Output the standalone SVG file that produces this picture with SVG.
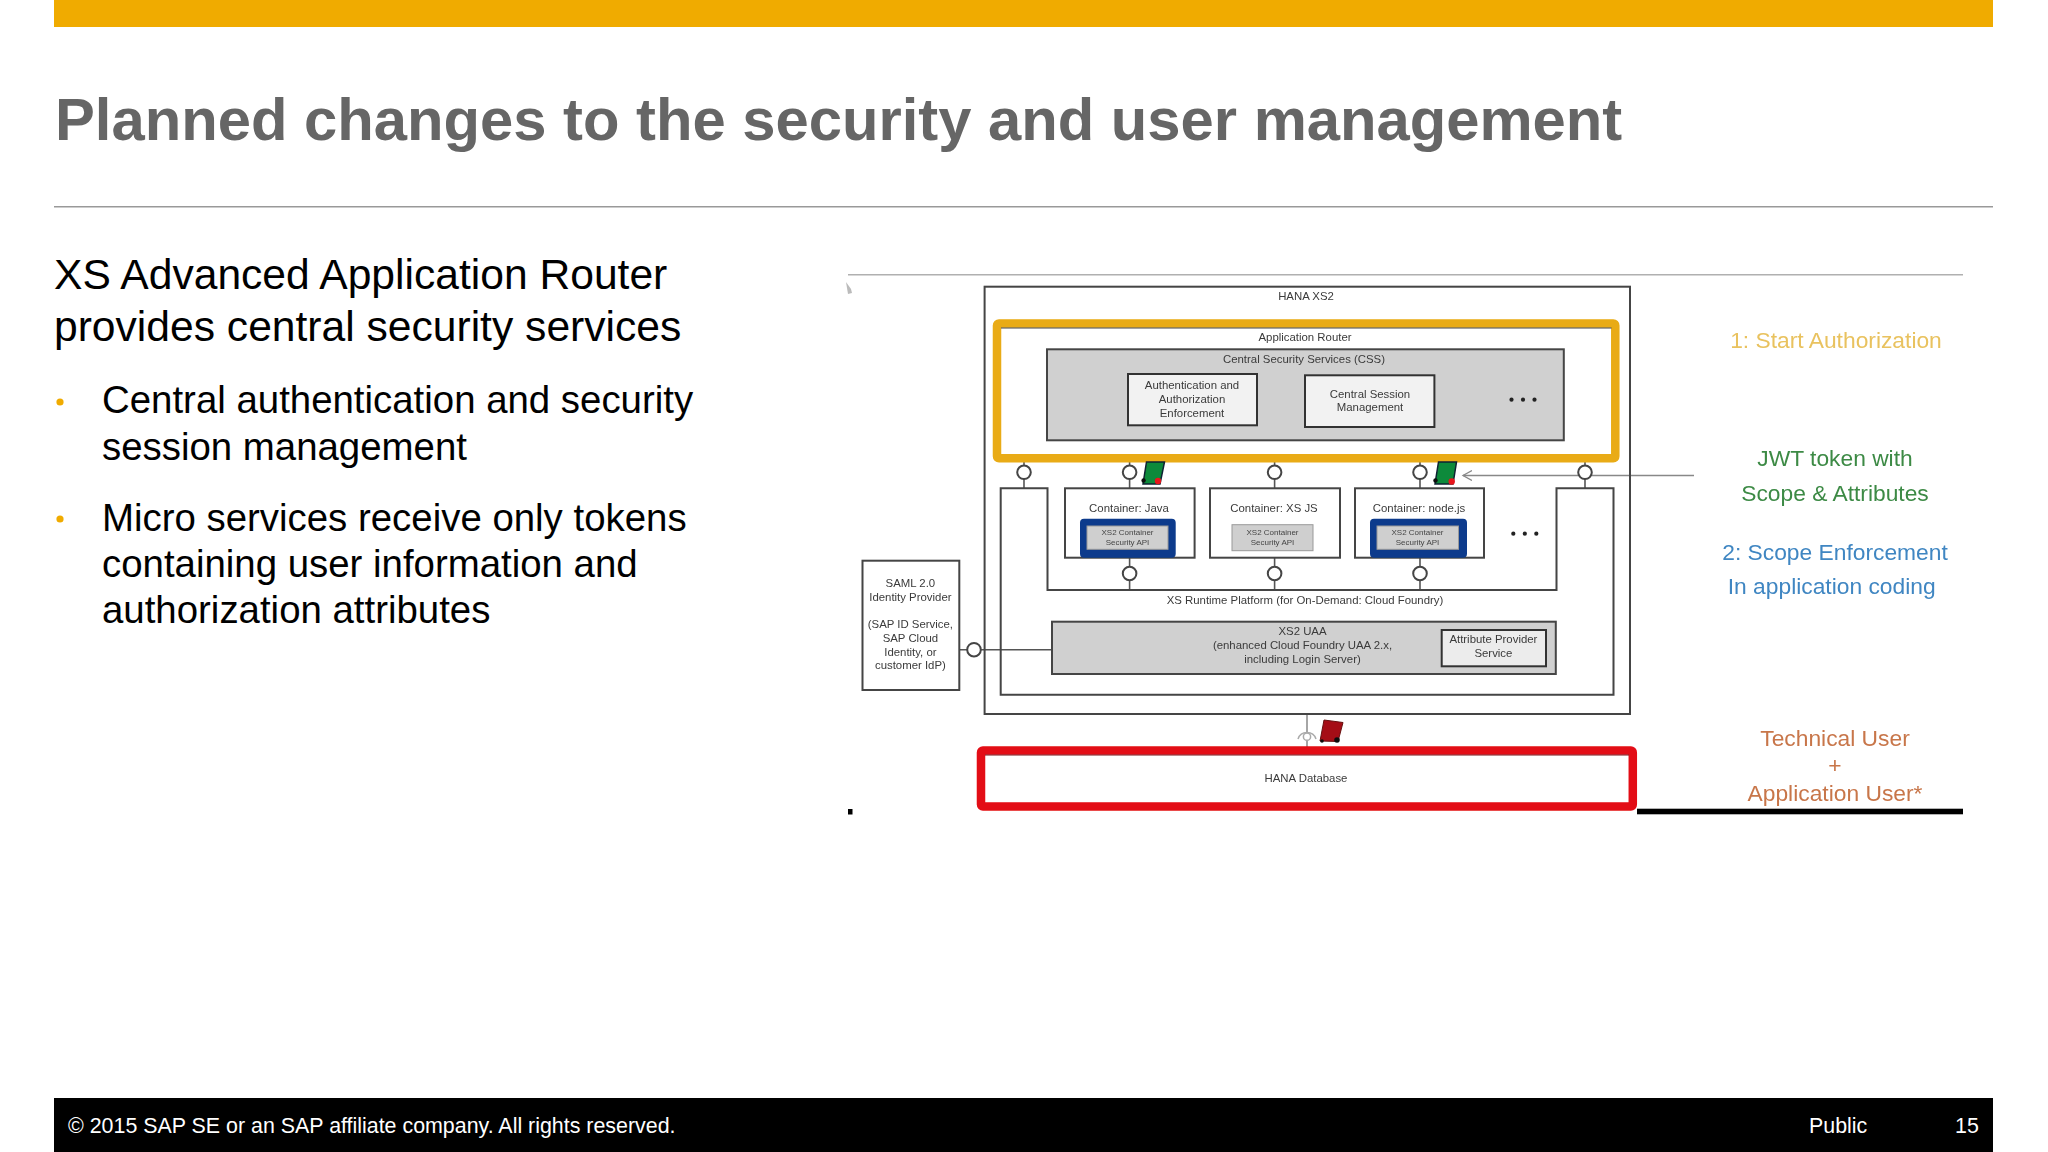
<svg xmlns="http://www.w3.org/2000/svg" width="2048" height="1152" viewBox="0 0 2048 1152">
<style>
text{font-family:"Liberation Sans",Arial,sans-serif}
.lb{font-size:11.4px;fill:#3a3a3a;text-anchor:middle}
.api{font-size:8px;fill:#444;text-anchor:middle}
.box{stroke:#444;stroke-width:2;fill:#fff}
.grey{stroke:#444;stroke-width:2;fill:#d0d0d0}
.lite{stroke:#333;stroke-width:2;fill:#f2f2f2}
.ball{stroke:#444;stroke-width:2;fill:#fff}
.wire{stroke:#555;stroke-width:1.6;fill:none}
.blue{fill:#0a3a8c}
.apibox{fill:#cfcfcf;stroke:#999;stroke-width:1}
.dot{fill:#222}
.body{font-size:38.4px;fill:#000}
.sm{font-size:22.8px;text-anchor:middle}
.or{fill:#c8764a}
.gn{fill:#3c8a45}
.bl{fill:#3f86c2}
.ft{font-size:21.4px;fill:#fff}
</style>
<defs>
<filter id="soft" x="-2%" y="-2%" width="104%" height="104%"><feGaussianBlur stdDeviation="0.7"/></filter>
<marker id="open" markerWidth="12" markerHeight="12" refX="9" refY="5" orient="auto" markerUnits="userSpaceOnUse"><path d="M0 0L9 5L0 10" fill="none" stroke="#888" stroke-width="1.3"/></marker>
</defs>
<rect width="2048" height="1152" fill="#fff"/>
<g id="slide-frame">
<rect x="54" y="0" width="1939" height="27" fill="#f0ab00"/>
<text x="55" y="140" font-size="59.75" font-weight="700" fill="#666">Planned changes to the security and user management</text>
<rect x="54" y="206" width="1939" height="1.5" fill="#999"/>
<rect x="54" y="1098" width="1939" height="54" fill="#000"/>
<text class="ft" x="68" y="1133">© 2015 SAP SE or an SAP affiliate company. All rights reserved.</text>
<text class="ft" x="1809" y="1133">Public</text>
<text class="ft" x="1955" y="1133">15</text>
</g>
<g id="body-text">
<text x="54" y="289" font-size="42.6" fill="#000">XS Advanced Application Router</text>
<text x="54" y="341" font-size="42.6" fill="#000">provides central security services</text>
<circle cx="60" cy="402" r="3.6" fill="#f0ab00"/>
<text class="body" x="102" y="413">Central authentication and security</text>
<text class="body" x="102" y="460">session management</text>
<circle cx="60" cy="519" r="3.6" fill="#f0ab00"/>
<text class="body" x="102" y="531">Micro services receive only tokens</text>
<text class="body" x="102" y="577">containing user information and</text>
<text class="body" x="102" y="623">authorization attributes</text>
</g>
<g id="diagram" filter="url(#soft)">
<rect x="848" y="274" width="1115" height="1.5" fill="#b0b0b0"/>
<path d="M846 282l5 7 1 4-4 1z" fill="#bbb"/>
<rect x="848" y="809" width="4.5" height="5.5" fill="#000"/>
<rect x="1637" y="808.7" width="326" height="5.6" fill="#000"/>
<g id="connectors">
<path class="wire" d="M1024 462V488M1129.6 462V488M1274.6 462V488M1420 462V488M1585 462V488M1129.6 558V590M1274.6 558V590M1420 558V590M959 649.7H1052"/>
<path d="M1694 475.5H1463" stroke="#888" stroke-width="1.3" fill="none" marker-end="url(#open)"/>
<path d="M1307 714V748" stroke="#888" stroke-width="1.5" fill="none"/>
</g>
<g id="hana-xs2"><rect class="box" x="984.6" y="286.7" width="645.4" height="427.3" style="fill:none"/><text class="lb" x="1306" y="300">HANA XS2</text></g>
<g id="application-router">
<rect x="997" y="323.5" width="618.3" height="134.8" rx="2" fill="#fff" stroke="#e9ab12" stroke-width="8.5"/>
<path d="M1001 328H1611.5" stroke="#444" stroke-width="1"/>
<text class="lb" x="1305" y="341">Application Router</text>
</g>
<g id="css">
<rect class="grey" x="1047" y="349.3" width="516.8" height="91"/>
<text class="lb" x="1304" y="363">Central Security Services (CSS)</text>
<circle class="dot" cx="1511.5" cy="399.7" r="2.1"/><circle class="dot" cx="1523" cy="399.7" r="2.1"/><circle class="dot" cx="1534.5" cy="399.7" r="2.1"/>
</g>
<g id="auth-enforcement"><rect class="lite" x="1128" y="374" width="129" height="51.3"/>
<text class="lb" x="1192" y="389">Authentication and</text><text class="lb" x="1192" y="403">Authorization</text><text class="lb" x="1192" y="416.5">Enforcement</text></g>
<g id="session-management"><rect class="lite" x="1305" y="375.3" width="129.4" height="51.7"/>
<text class="lb" x="1370" y="397.7">Central Session</text><text class="lb" x="1370" y="411">Management</text></g>
<g id="runtime-platform">
<path class="box" style="fill:none" d="M1047.5 590H1556.5V488.3H1613.5V694.7H1000.7V488.3H1047.5Z"/>
<text class="lb" x="1305" y="604.3">XS Runtime Platform (for On-Demand: Cloud Foundry)</text>
<circle class="dot" cx="1513.3" cy="533.7" r="2.1"/><circle class="dot" cx="1524.8" cy="533.7" r="2.1"/><circle class="dot" cx="1536.3" cy="533.7" r="2.1"/>
</g>
<g id="container-java"><rect class="box" x="1065" y="488.3" width="129.6" height="69.4"/>
<text class="lb" x="1129" y="512.3">Container: Java</text>
<rect class="blue" x="1080" y="518.7" width="95.7" height="39" rx="4"/><rect class="apibox" x="1087" y="526" width="81" height="23.3"/>
<text class="api" x="1127.5" y="535">XS2 Container</text><text class="api" x="1127.5" y="545.3">Security API</text></g>
<g id="container-xsjs"><rect class="box" x="1210" y="488.3" width="130" height="69.4"/>
<text class="lb" x="1274" y="512.3">Container: XS JS</text>
<rect class="apibox" x="1232" y="524.7" width="81" height="26"/>
<text class="api" x="1272.5" y="535">XS2 Container</text><text class="api" x="1272.5" y="545.3">Security API</text></g>
<g id="container-node"><rect class="box" x="1355" y="488.3" width="129" height="69.4"/>
<text class="lb" x="1419" y="512.3">Container: node.js</text>
<rect class="blue" x="1370" y="518.7" width="97" height="39" rx="4"/><rect class="apibox" x="1377" y="526" width="81.5" height="23.3"/>
<text class="api" x="1417.5" y="535">XS2 Container</text><text class="api" x="1417.5" y="545.3">Security API</text></g>
<g id="sockets">
<circle class="ball" cx="1024" cy="472.3" r="6.8"/><circle class="ball" cx="1129.6" cy="472.3" r="6.8"/><circle class="ball" cx="1274.6" cy="472.3" r="6.8"/><circle class="ball" cx="1420" cy="472.3" r="6.8"/><circle class="ball" cx="1585" cy="472.3" r="6.8"/>
<circle class="ball" cx="1129.6" cy="573.5" r="6.8"/><circle class="ball" cx="1274.6" cy="573.5" r="6.8"/><circle class="ball" cx="1420" cy="573.5" r="6.8"/>
<circle class="ball" cx="974" cy="649.7" r="6.8"/>
<circle cx="1307" cy="736.7" r="3.6" fill="#fff" stroke="#aaa" stroke-width="1.5"/><path d="M1298 739A9.5 9.5 0 0 1 1316 739" fill="none" stroke="#aaa" stroke-width="1.5"/>
</g>
<g id="token-java"><path d="M1146.5 462H1164.5L1160 484H1143Z" fill="#0b8a3a" stroke="#123" stroke-width="1.5"/><circle cx="1143.6" cy="480.5" r="2.2" fill="#111"/><circle cx="1158" cy="481" r="3.2" fill="#e8141c"/></g>
<g id="token-node"><path d="M1438.5 462H1456.5L1453 484H1435Z" fill="#0b8a3a" stroke="#123" stroke-width="1.5"/><circle cx="1435.5" cy="480.5" r="2.2" fill="#111"/><circle cx="1451.7" cy="481.5" r="3.2" fill="#e8141c"/></g>
<g id="token-db"><path d="M1324 720L1343 722.5L1338 741.5L1320 741Z" fill="#a51015" stroke="#611" stroke-width="1"/><circle cx="1337" cy="740" r="2.8" fill="#111"/><circle cx="1322" cy="741" r="1.8" fill="#111"/></g>
<g id="uaa"><rect class="grey" x="1052" y="621.7" width="503.8" height="52.3"/>
<text class="lb" x="1302.5" y="635">XS2 UAA</text><text class="lb" x="1302.5" y="649">(enhanced Cloud Foundry UAA 2.x,</text><text class="lb" x="1302.5" y="662.7">including Login Server)</text></g>
<g id="attribute-provider"><rect class="lite" x="1441.7" y="630" width="104.3" height="36.3" style="fill:#ececec"/>
<text class="lb" x="1493.4" y="643.3">Attribute Provider</text><text class="lb" x="1493.4" y="656.7">Service</text></g>
<g id="saml-idp"><rect class="box" x="862.5" y="560.7" width="96.8" height="129.3"/>
<text class="lb" x="910.4" y="587.3">SAML 2.0</text><text class="lb" x="910.4" y="600.7">Identity Provider</text><text class="lb" x="910.4" y="628">(SAP ID Service,</text><text class="lb" x="910.4" y="642">SAP Cloud</text><text class="lb" x="910.4" y="655.7">Identity, or</text><text class="lb" x="910.4" y="669.3">customer IdP)</text></g>
<g id="hana-database"><rect x="981" y="750.5" width="651.8" height="56" rx="2" fill="#fff" stroke="#e30a13" stroke-width="8.5"/>
<path d="M985 755H1629" stroke="#7a1015" stroke-width="1"/>
<text class="lb" x="1306" y="781.7">HANA Database</text></g>
<g id="annotations">
<text class="sm" x="1836" y="347.7" fill="#e9c25e">1: Start Authorization</text>
<text class="sm gn" x="1835" y="466">JWT token with</text>
<text class="sm gn" x="1835" y="501">Scope &amp; Attributes</text>
<text class="sm bl" x="1835" y="560">2: Scope Enforcement</text>
<text class="sm bl" x="1831.7" y="594.3">In application coding</text>
<text class="sm or" x="1835" y="745.7">Technical User</text>
<text class="sm or" x="1835" y="773">+</text>
<text class="sm or" x="1835" y="800.7">Application User*</text>
</g>
</g>
</svg>
